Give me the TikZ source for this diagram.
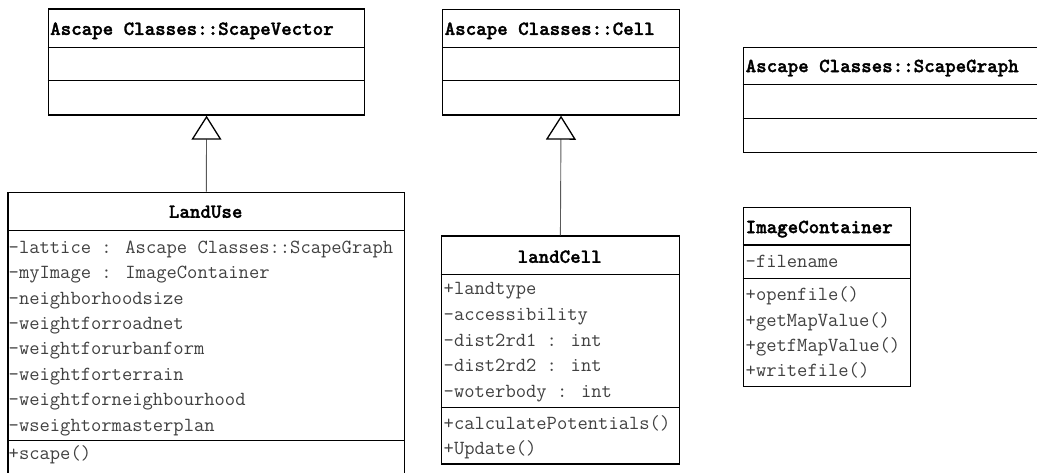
\documentclass[tikz,border=0pt]{standalone}
\usepackage{fontspec}
\newfontfamily\headfont{lmmonolt10-bold.otf}[FakeBold=1.6]
\usetikzlibrary{arrows.meta}
\begin{document}
\begin{tikzpicture}[x=1pt,y=-1pt,
  classbox/.style={draw=black, line width=1.4pt, rectangle, anchor=north west, inner sep=0pt},
  sepline/.style={line width=1.4pt, black},
  member/.style={anchor=west, inner sep=0pt, text=black!75,
    font=\ttfamily\fontsize{20}{22}\selectfont, text height=15pt, text depth=1.8pt},
  title/.style={member, text=black, font=\headfont\fontsize{20}{22}\selectfont},
  ctitle/.style={title, anchor=center},
  gen/.style={draw=black!65, line width=0.9pt,
    -{Triangle[open, length=24pt, width=30pt, line width=1.3pt, color=black]}}]
\useasboundingbox (0,0) rectangle (1037,472);
\clip (0,0) rectangle (1037,472);

% ---- Ascape Classes::ScapeVector
\node[classbox, minimum width=316.3pt, minimum height=106pt] (sv) at (47.7,8.3) {};
\draw[sepline] (sv.north west |- 0,47.7) -- (sv.north east |- 0,47.7);
\draw[sepline] (sv.north west |- 0,80.7) -- (sv.north east |- 0,80.7);
\node[title] (sv-t) at (50,28.3) {Ascape Classes::ScapeVector};

% ---- Ascape Classes::Cell
\node[classbox, minimum width=236.7pt, minimum height=105.3pt] (cell) at (442,9) {};
\draw[sepline] (cell.north west |- 0,47.7) -- (cell.north east |- 0,47.7);
\draw[sepline] (cell.north west |- 0,80.7) -- (cell.north east |- 0,80.7);
\node[title] (cell-t) at (444.5,28.3) {Ascape Classes::Cell};

% ---- Ascape Classes::ScapeGraph (runs past the right edge)
\node[classbox, minimum width=320pt, minimum height=105pt] (sg) at (742.7,46.7) {};
\draw[sepline] (sg.north west |- 0,84.3) -- (sg.north east |- 0,84.3);
\draw[sepline] (sg.north west |- 0,118.3) -- (sg.north east |- 0,118.3);
\node[title] (sg-t) at (745.5,65.5) {Ascape Classes::ScapeGraph};

% ---- LandUse (runs past the bottom edge)
\node[classbox, minimum width=396.7pt, minimum height=300pt] (lu) at (7.3,191.7) {};
\draw[sepline] (lu.north west |- 0,230.7) -- (lu.north east |- 0,230.7);
\draw[sepline] (lu.north west |- 0,440.7) -- (lu.north east |- 0,440.7);
\node[ctitle] (lu-t) at (205.7,211.2) {LandUse};
\foreach \txt [count=\k from 0] in {-lattice : Ascape Classes::ScapeGraph,
    -myImage : ImageContainer, -neighborhoodsize, -weightforroadnet,
    -weightforurbanform, -weightforterrain, -weightforneighbourhood,
    -wseightormasterplan}
  \node[member] (lu-a\k) at (8.5,246.7+25.4*\k) {\txt};
\node[member] (lu-m0) at (8.5,452.7) {+scape()};

% ---- landCell
\node[classbox, minimum width=238pt, minimum height=228pt] (lc) at (440.7,235.3) {};
\draw[sepline] (lc.north west |- 0,274.3) -- (lc.north east |- 0,274.3);
\draw[sepline] (lc.north west |- 0,407.3) -- (lc.north east |- 0,407.3);
\node[ctitle] (lc-t) at (559.7,256.2) {landCell};
\foreach \txt [count=\k from 0] in {+landtype, -accessibility,
    -dist2rd1 : int, -dist2rd2 : int, -woterbody : int}
  \node[member] (lc-a\k) at (443.5,288.3+25.6*\k) {\txt};
\node[member] (lc-m0) at (443.5,422.7) {+calculatePotentials()};
\node[member] (lc-m1) at (443.5,448.3) {+Update()};

% ---- ImageContainer
\node[classbox, minimum width=167.3pt, minimum height=179.3pt] (ic) at (742.7,206.7) {};
\draw[sepline] (ic.north west |- 0,245) -- (ic.north east |- 0,245);
\draw[sepline] (ic.north west |- 0,278.3) -- (ic.north east |- 0,278.3);
\node[title] (ic-t) at (745.5,226.5) {ImageContainer};
\node[member] (ic-a0) at (745.5,260.5) {-filename};
\foreach \txt [count=\k from 0] in {+openfile(), +getMapValue(),
    +getfMapValue(), +writefile()}
  \node[member] (ic-m\k) at (745.5,294+25.4*\k) {\txt};

% ---- generalisations
\draw[gen] (lu.north) -- (sv.south);
\draw[gen] (lc.north) -- (cell.south);
\end{tikzpicture}
\end{document}
